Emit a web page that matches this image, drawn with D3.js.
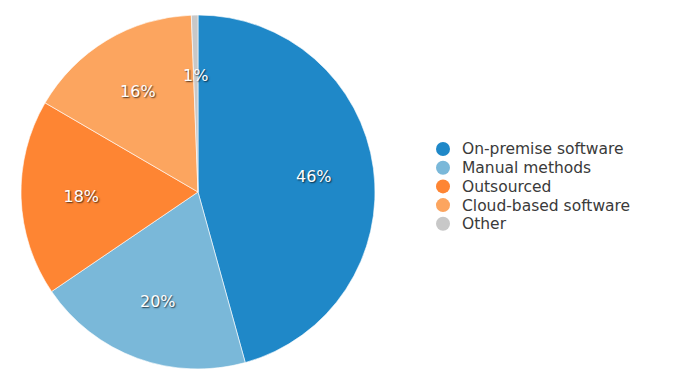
<!DOCTYPE html>
<html lang="en">
<head>
    <meta charset="UTF-8">
    <title>Pie</title>
    <script src="https://d3js.org/d3.v7.min.js"></script>
    <style>
        body { margin: 0; background: #fff; }
        text { font-family: "DejaVu Sans", Verdana, sans-serif; }
        .lbl { fill: #fff; font-size: 16px; text-shadow: 1px 1px 1.5px rgba(0,0,0,0.7); }
        .leg { fill: #3a3a3a; font-size: 15.5px; }
    </style>
</head>
<body>
<script>
    var categories = ["On-premise software", "Manual methods", "Outsourced", "Cloud-based software", "Other"];
    var values = [45.7, 19.8, 17.9, 16.0, 0.6];
    var colors = ["#1f88c8", "#7ab8d9", "#fe8533", "#fca55f", "#c8c8c8"];

    var width = 675, height = 388,
        cx = 198, cy = 192, radius = 177;

    var svg = d3.select("body").append("svg")
        .attr("width", width)
        .attr("height", height);

    var g = svg.append("g")
        .attr("transform", "translate(" + cx + "," + cy + ")");

    var pie = d3.pie().sort(null);
    var arc = d3.arc().innerRadius(0).outerRadius(radius);
    var labelArc = d3.arc().innerRadius(radius * 0.66).outerRadius(radius * 0.66);
    var total = d3.sum(values);

    var arcs = pie(values);

    g.selectAll(".slice")
        .data(arcs)
        .enter()
        .append("path")
        .attr("class", "slice")
        .attr("d", arc)
        .attr("fill", function (d, i) { return colors[i]; })
        .attr("stroke", "#fff")
        .attr("stroke-width", 0.6);

    g.selectAll(".lbl")
        .data(arcs)
        .enter()
        .append("text")
        .attr("class", "lbl")
        .attr("transform", function (d) {
            var c = labelArc.centroid(d);
            return "translate(" + c[0] + "," + c[1] + ")";
        })
        .attr("text-anchor", "middle")
        .attr("dy", "0.35em")
        .text(function (d) { return Math.round(d.data / total * 100) + "%"; });

    var legend = svg.append("g")
        .attr("transform", "translate(443,149)");

    var row = legend.selectAll(".row")
        .data(categories)
        .enter()
        .append("g")
        .attr("transform", function (d, i) { return "translate(0," + i * 18.7 + ")"; });

    row.append("circle")
        .attr("r", 7)
        .attr("fill", function (d, i) { return colors[i]; });

    row.append("text")
        .attr("class", "leg")
        .attr("x", 19)
        .attr("dy", "0.35em")
        .text(function (d) { return d; });
</script>
</body>
</html>
